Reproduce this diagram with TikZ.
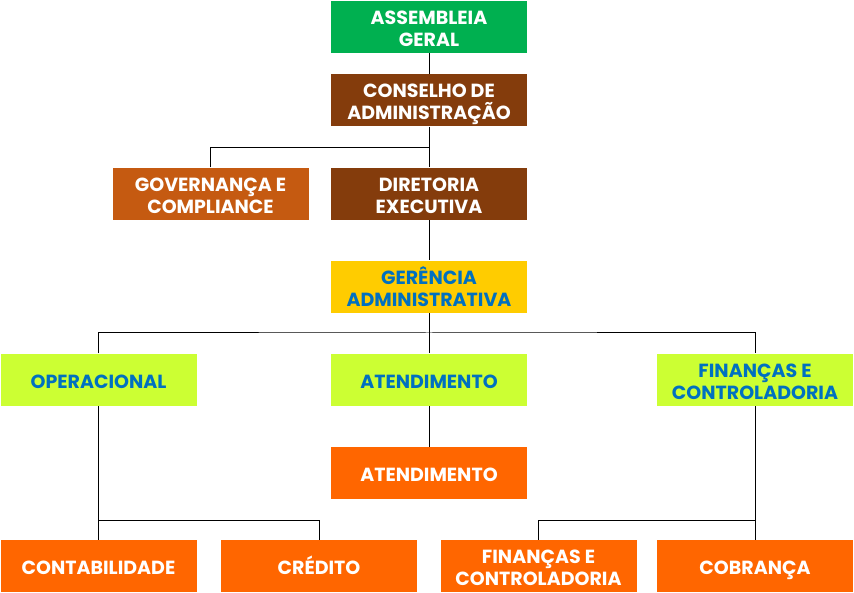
\documentclass[tikz,border=0pt]{standalone}
\usepackage{fontspec}
\setmainfont{Poppins}
\definecolor{verde}{RGB}{0,176,80}
\definecolor{marrom}{RGB}{132,60,12}
\definecolor{laranjaesc}{RGB}{197,90,17}
\definecolor{amarelo}{RGB}{255,204,0}
\definecolor{lima}{RGB}{204,255,51}
\definecolor{laranja}{RGB}{255,102,0}
\definecolor{azul}{RGB}{0,112,192}
% strut so that the caps sit in the middle of each line
\newcommand\lstr{\rule[-4.7pt]{0pt}{26.7pt}}
\newcommand\boxfont{\bfseries\fontsize{19}{22}\selectfont\lineskiplimit-100pt\relax}
\begin{document}
\begin{tikzpicture}[x=1pt,y=-1pt,line width=1pt,
  box/.style={rectangle, minimum width=196pt, minimum height=52pt, inner sep=0pt, align=center,
    font=\boxfont},
  white box/.style={box, text=white},
  blue box/.style={box, text=azul}]
  \useasboundingbox (0,0) rectangle (854,593);
  \node[white box, fill=verde] (ag) at (429, 27) {\lstr ASSEMBLEIA\\\lstr GERAL};
  \node[white box, fill=marrom] (ca) at (429, 100.5) {\lstr CONSELHO DE\\\lstr ADMINISTRAÇÃO};
  \node[white box, fill=laranjaesc] (gc) at (210.5, 194) {\lstr GOVERNANÇA E\\\lstr COMPLIANCE};
  \node[white box, fill=marrom] (de) at (429, 194) {\lstr DIRETORIA\\\lstr EXECUTIVA};
  \node[blue box, fill=amarelo] (ga) at (429, 287) {\lstr GERÊNCIA\\\lstr ADMINISTRATIVA};
  \node[blue box, fill=lima] (op) at (98.5, 380) {\lstr OPERACIONAL};
  \node[blue box, fill=lima] (at) at (429, 380) {\lstr ATENDIMENTO};
  \node[blue box, fill=lima] (fc) at (755, 380) {\lstr FINANÇAS E\\\lstr CONTROLADORIA};
  \node[white box, fill=laranja] (at2) at (429, 473) {\lstr ATENDIMENTO};
  \node[white box, fill=laranja] (cont) at (98.5, 566) {\lstr CONTABILIDADE};
  \node[white box, fill=laranja] (cred) at (319, 566) {\lstr CRÉDITO};
  \node[white box, fill=laranja] (fc2) at (538.5, 566) {\lstr FINANÇAS E\\\lstr CONTROLADORIA};
  \node[white box, fill=laranja] (cob) at (755, 566) {\lstr COBRANÇA};
  \coordinate (j1) at (429, 148);
  \coordinate (j2) at (429, 333);
  \coordinate (j3) at (98.5, 520);
  \coordinate (j4) at (755, 520);
  \path
    (ag) edge (ca)
    (ca) edge (de)
    (de) edge (ga)
    (ga) edge (at)
    (at) edge (at2)
    (op) edge (cont)
    (fc) edge (cob);
  \draw (gc.north) |- (j1);
  \draw (op.north) |- (j2) -| (fc.north);
  \draw (j3) -| (cred.north);
  \draw (j4) -| (fc2.north);
\end{tikzpicture}
\end{document}
